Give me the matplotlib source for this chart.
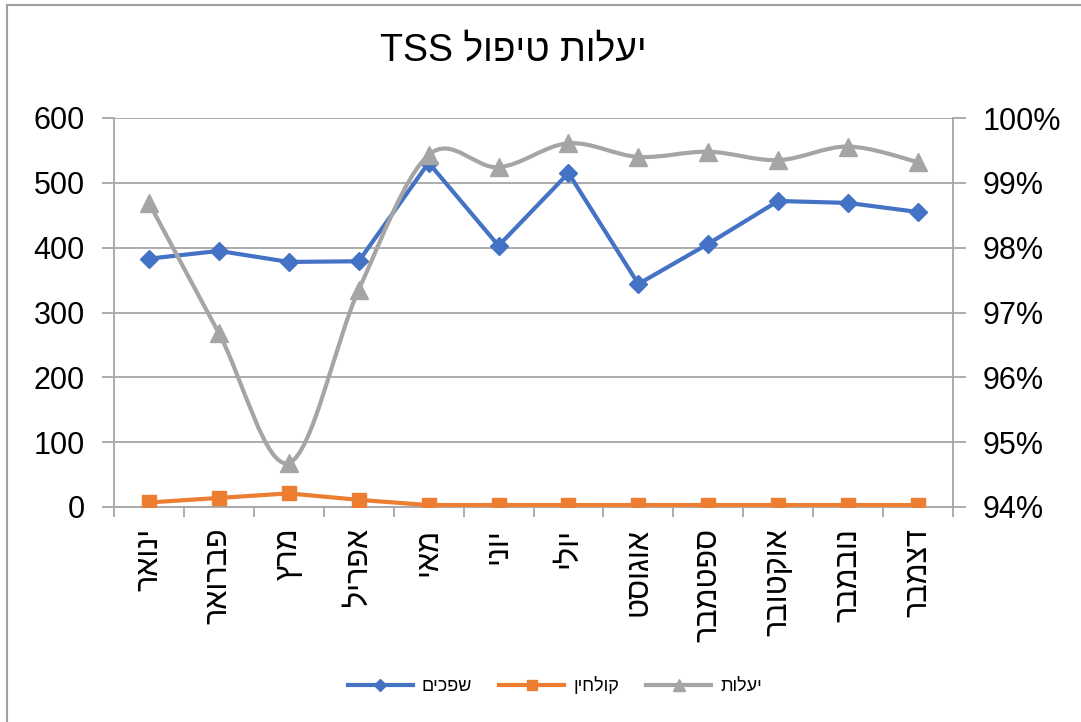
import matplotlib.pyplot as plt
import numpy as np
from matplotlib.path import Path
from matplotlib.patches import PathPatch
from matplotlib.lines import Line2D
from matplotlib.ticker import PercentFormatter

plt.rcParams['font.family'] = ['Liberation Sans', 'DejaVu Sans']

# נתונים
months = ['ינואר', 'פברואר', 'מרץ', 'אפריל', 'מאי', 'יוני',
          'יולי', 'אוגוסט', 'ספטמבר', 'אוקטובר', 'נובמבר', 'דצמבר']
shfachim = [383, 395, 378, 379, 531, 403, 515, 344, 406, 472, 469, 455]
kolchin = [7, 14, 21, 11, 3, 3, 3, 3, 3, 3, 3, 3]
yeilut = [0.9869, 0.9668, 0.9468, 0.9735, 0.9943, 0.9924,
          0.9961, 0.9940, 0.9948, 0.9935, 0.9956, 0.9932]

blue = '#4472C4'
orange = '#ED7D31'
gray = '#A5A5A5'
axcol = '#A6A6A6'


def vis(s):
    # matplotlib לא הופך טקסט עברי - הופכים ידנית
    return s[::-1]


fig = plt.figure(figsize=(10.81, 7.22), dpi=100)
ax = fig.add_axes([114/1081, 1-507/722, (953-114)/1081, (507-118)/722])
ax2 = ax.twinx()

x = np.arange(len(months))

ax.plot(x, shfachim, color=blue, lw=3, marker='D', ms=9, zorder=3)
ax.plot(x, kolchin, color=orange, lw=3, marker='s', ms=10, zorder=3)

# קו מוחלק (כמו באקסל) לסדרת היעילות
pts = np.column_stack([x, yeilut])
verts = [tuple(pts[0])]
codes = [Path.MOVETO]
n = len(pts)
for i in range(n - 1):
    p0 = pts[i - 1] if i > 0 else pts[i]
    p1 = pts[i]
    p2 = pts[i + 1]
    p3 = pts[i + 2] if i + 2 < n else pts[i + 1]
    c1 = p1 + (p2 - p0) / 6
    c2 = p2 - (p3 - p1) / 6
    verts += [tuple(c1), tuple(c2), tuple(p2)]
    codes += [Path.CURVE4, Path.CURVE4, Path.CURVE4]
ax2.add_patch(PathPatch(Path(verts, codes), fill=False, edgecolor=gray, lw=3,
                        capstyle='round', joinstyle='round'))
ax2.plot(x, yeilut, ls='none', color=gray, marker='^', ms=13)

ax.set_xlim(-0.5, len(months) - 0.5)
ax.set_ylim(0, 600)
ax.set_yticks(range(0, 601, 100))
ax2.set_ylim(0.94, 1.0)
ax2.set_yticks(np.arange(0.94, 1.0001, 0.01))
ax2.yaxis.set_major_formatter(PercentFormatter(1.0, decimals=0))

ax.set_xticks(x)
ax.set_xticklabels([vis(m) for m in months], rotation=90, fontsize=22)
ax.set_xticks(np.arange(-0.5, len(months), 1), minor=True)
ax.tick_params(axis='x', which='major', length=0, pad=15)
ax.tick_params(axis='x', which='minor', length=7, width=1.3, color=axcol, direction='out')
ax.tick_params(axis='y', labelsize=22, length=9, width=1.3, color=axcol, pad=12)
ax2.tick_params(axis='y', labelsize=22, length=9, width=1.3, color=axcol, pad=12)

ax.grid(axis='y', color=axcol, lw=1.3)
ax.set_axisbelow(True)
for a in (ax, ax2):
    a.spines['top'].set_visible(False)
    for sp in ('left', 'right', 'bottom'):
        a.spines[sp].set_color(axcol)
        a.spines[sp].set_linewidth(1.3)
ax2.spines['bottom'].set_visible(False)
ax2.spines['left'].set_visible(False)
ax.spines['right'].set_visible(False)

fig.text(513/1081, 1-50/722, 'TSS ' + vis('טיפול') + ' ' + vis('יעלות'),
         ha='center', va='center', fontsize=27)

handles = [Line2D([], [], color=blue, lw=3, marker='D', ms=6),
           Line2D([], [], color=orange, lw=3, marker='s', ms=7),
           Line2D([], [], color=gray, lw=3, marker='^', ms=8)]
labels = [vis('שפכים'), vis('קולחין'), vis('יעלות')]
fig.legend(handles, labels, loc='center', bbox_to_anchor=(555/1081, 1-686/722),
           ncol=3, frameon=False, fontsize=13, handlelength=3.6, columnspacing=1.5,
           handletextpad=0.5)

# מסגרת התרשים
fig.add_artist(Line2D([7/1081, 7/1081], [0, 1-5/722], color='#A0A0A0', lw=1.5))
fig.add_artist(Line2D([7/1081, 1], [1-5/722, 1-5/722], color='#A0A0A0', lw=1.5))

fig.savefig('out.png', dpi=100)
